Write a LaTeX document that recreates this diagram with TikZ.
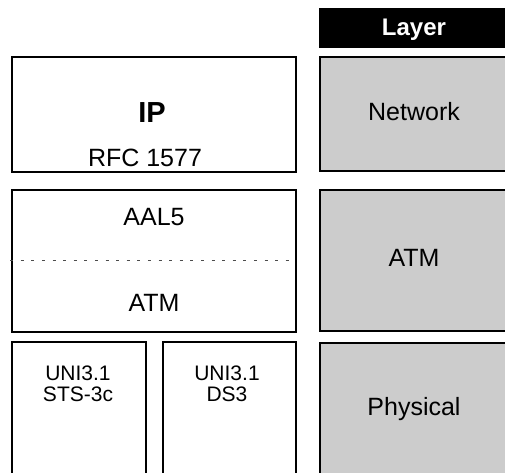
\documentclass[tikz,border=0pt]{standalone}
\usepackage{fontspec}
\setmainfont{Liberation Sans}
\begin{document}
\begin{tikzpicture}[
        x=1pt, y=-1pt, % координаты в пикселях, ось y вниз
        box/.style = {draw, line width=1.8pt, inner sep=0pt}, % Стиль рамок
        layer/.style = {box, fill=black!20}, % Серые рамки уровней
        txt/.style = {anchor=base, inner sep=0pt, font=\fontsize{25}{30}\selectfont},
        small/.style = {anchor=base, inner sep=0pt, align=center, font=\fontsize{21}{21}\selectfont},
        sep/.style = {draw, black!70, line width=0.9pt, dash pattern=on 3pt off 7.6pt}, % Пунктир
    ]
    \useasboundingbox (0,0) rectangle (505,472);

    % Стек протоколов
    \node[box, minimum width=284pt, minimum height=115pt] (ip) at (154,114.5) {};
    \node[box, minimum width=284pt, minimum height=142pt] (atm) at (154,261) {};
    \node[box, minimum width=134pt, minimum height=138pt] (sts) at (79,411) {};
    \node[box, minimum width=133pt, minimum height=138pt] (ds) at (229.5,411) {};

    % Уровни
    \node[fill=black, minimum width=190pt, minimum height=40pt] (head) at (414,28) {};
    \node[layer, minimum width=188pt, minimum height=114pt] (net) at (414,114) {};
    \node[layer, minimum width=188pt, minimum height=141pt] (atml) at (414,260.5) {};
    \node[layer, minimum width=188pt, minimum height=137pt] (phys) at (414,411.5) {};

    \draw[sep] ([xshift=-1pt, yshift=1pt]atm.west) -- ([xshift=-3pt, yshift=1pt]atm.east);

    % Подписи
    \node[txt, text=white, font=\fontsize{24}{28}\selectfont\bfseries] (headtxt) at ([yshift=-7.5pt]head.center) {Layer};
    \node[txt, font=\fontsize{29}{34}\selectfont\bfseries] (iptxt) at ([xshift=-2pt, yshift=-7.5pt]ip.center) {IP};
    \node[txt] (rfctxt) at ([xshift=-9pt, yshift=-51.5pt]ip.center) {RFC 1577};
    \node[txt] (aaltxt) at ([yshift=36pt]atm.center) {AAL5};
    \node[txt] (atmtxt) at ([yshift=-50.7pt]atm.center) {ATM};
    \node[small] (ststxt) at ([xshift=-1pt, yshift=9.3pt]sts.center) {UNI3.1\\STS-3c};
    \node[small] (dstxt) at ([xshift=-2.5pt, yshift=9.3pt]ds.center) {UNI3.1\\DS3};
    \node[txt] (nettxt) at ([yshift=-6pt]net.center) {Network};
    \node[txt] (atmltxt) at ([yshift=-6.2pt]atml.center) {ATM};
    \node[txt] (phystxt) at ([yshift=-3.5pt]phys.center) {Physical};
\end{tikzpicture}
\end{document}
